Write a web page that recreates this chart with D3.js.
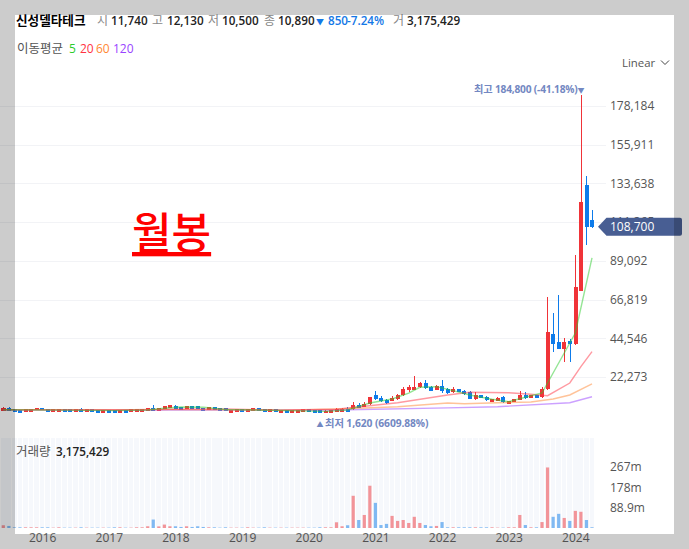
<!DOCTYPE html>
<html>
<head>
<meta charset="utf-8">
<script src="https://cdn.jsdelivr.net/npm/d3@7"></script>
<style>
  html, body { margin: 0; background: #fff; overflow: hidden; }
  svg { display: block; }
  text { font-family: "Open Sans", "Noto Sans CJK KR", sans-serif; font-size: 12px; }
  .domain { display: none; }
  .tick line { display: none; }
  .tick text { fill: #555; font-size: 12px; font-family: "Open Sans", sans-serif; }
</style>
</head>
<body>
<div id="chart"></div>
<script>
// monthly candles, first one is 2015-06, last one 2024-04
const opens = [
  2895,4430,3856,3280,2320,2320,3280,4430,3856,2320,
  2320,3856,3856,2320,3856,2320,3856,3280,1744,3280,
  3280,1744,3280,2320,2320,2320,2895,4430,2895,3856,
  4621,5582,4810,3856,5390,5390,4430,3280,4810,4430,
  4430,1700,2130,3856,2130,2895,4430,3856,2320,3856,
  1744,3280,1744,1744,2320,3856,3280,3280,1620,1744,
  2320,2320,3856,3700,6350,5010,6545,12110,10380,9230,
  8460,9420,11720,14600,14790,16330,18820,16520,14790,17090,
  15180,13640,15180,14220,13640,9420,11720,10765,7890,8460,
  10765,6930,7890,9040,12110,10190,11720,10765,15190,47020,
  42410,38390,42990,41260,71940,132770,112600
];
const highs = [
  5200,5000,4000,3400,4000,4100,4500,4600,4000,4000,
  4000,4000,4000,4000,4500,4000,4000,3400,3400,3400,
  3400,3400,3400,4000,4000,4000,4600,6000,4600,5700,
  6300,6200,5000,5500,5500,5500,4600,5000,5000,4600,
  4600,3400,4000,4000,4000,4600,4600,4000,4000,4000,
  3400,3400,3400,3400,4000,4000,3400,3400,3000,3400,
  4200,4200,4800,8050,7310,7890,10900,14025,11340,9800,
  11150,12680,16520,17860,22850,19400,20350,17090,17480,20550,
  15940,16330,15370,14600,14025,13640,12110,11150,9600,10570,
  11150,8650,9800,14220,13640,11910,11910,16520,68310,59100,
  69460,44720,44140,92480,184800,137950,118380
];
const lows = [
  2700,2700,2200,1700,2200,2200,3100,3100,2200,2200,
  2200,2200,2200,2200,2200,2200,2200,1700,1700,1700,
  1700,1700,1700,2200,2200,2200,2700,2700,2700,3700,
  4500,3700,3100,3700,3700,3700,2700,3100,3100,2700,
  2700,1650,2000,2000,2000,2700,2700,2000,2200,2200,
  1700,1700,1700,1700,2200,2200,1700,1700,1620,1700,
  2200,2200,2200,3500,4200,4800,6400,8850,7890,6930,
  8270,9040,11340,13640,14790,15940,15180,14025,14600,13260,
  12300,13260,13450,12110,9420,8850,10190,8460,7700,8270,
  7500,6740,7700,8850,9800,10000,10000,10190,14790,36660,
  38100,30900,30900,40690,71940,98240,108000
];
const closes = [
  4430,2895,2320,1744,3856,3856,4430,3280,2320,3856,
  3856,2320,2320,3856,2320,3856,2320,1744,3280,1744,
  1744,3280,1744,3856,3856,3856,4430,2895,4430,5582,
  6158,3856,3280,5390,3856,3856,2895,4810,3280,2895,
  2895,3280,3856,2130,3856,4430,2895,2130,3856,2320,
  3280,1744,3280,3280,3856,2320,1744,1744,2895,3280,
  3856,3856,2320,6200,4440,6930,10765,9800,8460,7310,
  10380,12110,15560,16710,16710,19010,15940,14220,17090,14220,
  12875,15560,13640,12680,9800,11720,10380,8850,9420,10190,
  7890,8460,9420,12110,10190,11720,10190,15180,48170,41260,
  38390,42410,41260,74070,123160,108600,108700
];
// volume in millions of shares
const volumes = [
  12,9,3,3,3,3,3,3,3,1.5,
  3,1.5,1.5,1.5,3,1.5,1.5,1.5,1.5,1.5,
  3,3,1.5,1.5,3,3,7.5,37,7,15,
  7.5,7.5,4.5,7.5,4.5,7.5,4.5,3,3,1.5,
  3,1.5,1.5,1.5,3,1.5,1.5,3,1.5,1.5,
  1.5,1.5,1.5,1.5,1.5,1.5,1.5,3,3,3,
  25,7.5,12,141,35,57,185,110,13,18,
  53,31,35,22,49,22,13,7.5,9,26,
  3,3,3,3,3,3,3,3,3,1.5,
  1.5,3,3,57,13,3,3,26,265,49,
  62,44,31,75,71,35,3.2
];

// moving averages, at the month index in the *Idx list
const ma5Idx = [0,10,20,26,29,32,36,40,48,58,62,66,70,73,75,78,81,84,88,91,94,97,103,106];
const ma5 = [3400,3200,2900,3300,4300,5000,4900,3600,3100,2500,3300,7309,9610,13000,16340,16690,14390,11910,9438,8057,10590,13060,47590,90760];
const ma20Idx = [0,20,30,40,50,60,71,80,84,91,95,98,102,104,106];
const ma20 = [3500,3300,3700,3900,3200,3700,7480,11910,13470,13200,12315,11510,18820,28200,36830];
const ma60Idx = [0,30,50,60,71,80,83,89,95,99,102,106];
const ma60 = [3400,3500,3200,3856,5180,7309,6850,7480,7884,9610,11910,18240];
const ma120Idx = [0,50,60,80,89,102,106];
const ma120 = [3300,3200,3280,4500,5180,7480,10930];

const yearIdx = [7,19,31,43,55,67,79,91,103];
const yearLabels = ['2016','2017','2018','2019','2020','2021','2022','2023','2024'];
const priceTicks = [22273,44546,66819,89092,111365,133638,155911,178184];
const volumeTicks = [88.9,178,267];
const volumeLabels = ['88.9m','178m','267m'];

const headerItems = [
  ['시',97,'#888',400,12],['11,740',111,'#222',600,11.7],
  ['고',152,'#888',400,12],['12,130',167,'#222',600,11.7],
  ['저',208,'#888',400,12],['10,500',222,'#222',600,11.7],
  ['종',264,'#888',400,12],['10,890',278,'#222',600,11.7],
  ['▼',316,'#1478e6',400,8],['850',328,'#1478e6',600,11.7],['-7.24%',347,'#1478e6',600,11.7],
  ['거',393,'#888',400,12],['3,175,429',407,'#222',600,11.7]
];
const maLegend = [['5',69,'#2ccc2c'],['20',80,'#ff3344'],['60',96,'#ff8833'],['120',113,'#9944ff']];

const width = 689, height = 549;
const months = d3.range(opens.length);
const lastClose = 108700;

const svg = d3.select('#chart').append('svg').attr('width', width).attr('height', height);

const x = d3.scaleLinear().domain([0, 106]).range([3.3, 592]);
const y = d3.scaleLinear().domain([0, 178184]).range([415.7, 106]);
const yVol = d3.scaleLinear().domain([0, 267]).range([528, 467]);

// price grid
svg.append('g').selectAll('line').data(priceTicks).join('line')
    .attr('x1', 0).attr('x2', 606)
    .attr('y1', d => Math.round(y(d)) + 0.5).attr('y2', d => Math.round(y(d)) + 0.5)
    .attr('stroke', '#f2f3f6');

// volume pane stripes
svg.append('g').selectAll('rect').data(months).join('rect')
    .attr('x', d => x(d) - 2.4).attr('width', 4.6)
    .attr('y', 438).attr('height', 90)
    .attr('shape-rendering', 'crispEdges')
    .attr('fill', '#f6f8fc');

// volume bars
const upColor = '#f03338', downColor = '#0d7bea';
const isUp = i => closes[i] >= opens[i];
svg.append('g').attr('opacity', 0.5).selectAll('rect').data(months).join('rect')
    .attr('x', d => x(d) - 1.6).attr('width', 3.2)
    .attr('y', d => yVol(volumes[d])).attr('height', d => yVol(0) - yVol(volumes[d]))
    .attr('fill', d => isUp(d) ? upColor : downColor);

// candles
const candles = svg.append('g').attr('shape-rendering', 'crispEdges').selectAll('g').data(months).join('g');
candles.append('line')
    .attr('x1', d => x(d) + 0.3).attr('x2', d => x(d) + 0.3)
    .attr('y1', d => y(highs[d])).attr('y2', d => y(lows[d]))
    .attr('stroke', d => isUp(d) ? upColor : downColor);
candles.append('rect')
    .attr('x', d => x(d) - 1.8).attr('width', 4)
    .attr('y', d => y(Math.max(opens[d], closes[d])))
    .attr('height', d => Math.abs(y(opens[d]) - y(closes[d])))
    .attr('fill', d => isUp(d) ? upColor : downColor);

// moving averages
const maLine = (idx, values, color) => {
    const line = d3.line().x(d => x(d)).y((d, i) => y(values[i]));
    svg.append('path').attr('d', line(idx))
        .attr('fill', 'none').attr('stroke', color)
        .attr('stroke-width', 1.4).attr('stroke-opacity', 0.5);
};
maLine(ma120Idx, ma120, '#9944ff');
maLine(ma60Idx, ma60, '#ff8833');
maLine(ma20Idx, ma20, '#ff3344');
maLine(ma5Idx, ma5, '#2ccc2c');

// axes
svg.append('g').attr('transform', 'translate(0,531)')
    .call(d3.axisBottom(x).tickValues(yearIdx).tickSize(0).tickPadding(0)
        .tickFormat((d, i) => yearLabels[i]))
    .selectAll('text').attr('dy', '0.9em').style('fill', '#666');
svg.append('g').attr('transform', 'translate(610,0)')
    .call(d3.axisRight(y).tickValues(priceTicks).tickSize(0).tickPadding(0)
        .tickFormat(d3.format(',')));
svg.append('g').attr('transform', 'translate(610,0)')
    .call(d3.axisRight(yVol).tickValues(volumeTicks).tickSize(0).tickPadding(0)
        .tickFormat((d, i) => volumeLabels[i]));

// last price tag
const tagY = y(lastClose);
svg.append('path')
    .attr('d', `M598,${tagY} L606.5,${tagY - 9} H680 a2,2 0 0 1 2,2 V${tagY + 7} a2,2 0 0 1 -2,2 H606.5 Z`)
    .attr('fill', '#42598f').attr('fill-opacity', 0.97);
svg.append('text').attr('x', 610).attr('y', tagY + 4.5).attr('fill', '#fff').text('108,700');

// high / low notes
const noteHigh = svg.append('text').attr('x', x(104) + 3.5).attr('y', 93).attr('text-anchor', 'end')
    .attr('fill', '#7388c2').style('font-size', '10.2px').style('font-weight', 700)
    .style('letter-spacing', '-0.2px');
noteHigh.append('tspan').text('최고 184,800 (-41.18%)');
noteHigh.append('tspan').style('font-size', '7px').text('▼');
const noteLow = svg.append('text').attr('x', x(58) - 9).attr('y', y(1620) + 14)
    .attr('fill', '#7388c2').style('font-size', '10.3px').style('font-weight', 700)
    .style('letter-spacing', '-0.1px');
noteLow.append('tspan').style('font-size', '7px').text('▲ ');
noteLow.append('tspan').text('최저 1,620 (6609.88%)');

// header
svg.append('text').attr('x', 16).attr('y', 25).attr('fill', '#000')
    .style('font-size', '12.6px').style('font-weight', 700).text('신성델타테크');
svg.append('g').selectAll('text').data(headerItems).join('text')
    .attr('x', d => d[1]).attr('y', 25)
    .attr('fill', d => d[2]).style('font-weight', d => d[3]).style('font-size', d => d[4] + 'px')
    .text(d => d[0]);
svg.append('text').attr('x', 17).attr('y', 53).attr('fill', '#555').style('font-size', '12.5px').text('이동평균');
svg.append('g').selectAll('text').data(maLegend).join('text')
    .attr('x', d => d[1]).attr('y', 53).attr('fill', d => d[2]).text(d => d[0]);

svg.append('text').attr('x', 622).attr('y', 67).attr('fill', '#555').style('font-size', '11.4px').text('Linear');
svg.append('path').attr('d', 'M661,60.5 L665,64.5 L669,60.5').attr('fill', 'none').attr('stroke', '#444');

svg.append('text').attr('x', 16).attr('y', 456).attr('fill', '#555').style('font-size', '12.5px').text('거래량');
svg.append('text').attr('x', 56).attr('y', 456).attr('fill', '#222').style('font-size', '11.7px').style('font-weight', 600).text('3,175,429');

svg.append('text').attr('x', 132).attr('y', 249)
    .attr('fill', '#ff0000').style('font-size', '43px').style('font-weight', 500)
    .style('text-decoration', 'underline')
    .text('월봉');

// grey frame laid over the screenshot
svg.append('path')
    .attr('d', `M0,0 H${width} V${height} H0 Z M15,15 V534 H674 V15 Z`)
    .attr('fill', 'rgba(0,0,0,0.2)').attr('fill-rule', 'evenodd');
</script>
</body>
</html>
